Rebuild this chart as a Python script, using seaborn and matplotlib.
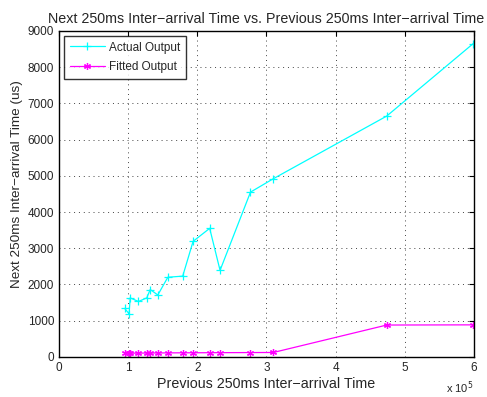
import matplotlib
matplotlib.use("Agg")
import matplotlib.pyplot as plt
import seaborn as sns
import pandas as pd
from matplotlib.ticker import FuncFormatter, MultipleLocator

prev_time = [0.95e5, 1.015e5, 1.03e5, 1.15e5, 1.27e5, 1.32e5, 1.43e5, 1.575e5,
             1.79e5, 1.94e5, 2.18e5, 2.33e5, 2.77e5, 3.1e5, 4.74e5, 5.99e5]
actual_output = [1340, 1190, 1630, 1530, 1630, 1860, 1710, 2200,
                 2230, 3190, 3550, 2390, 4550, 4920, 6650, 8650]
fitted_output = [100, 102, 103, 105, 107, 108, 109, 111,
                 113, 114, 116, 117, 120, 122, 880, 885]

sns.set_style("white")
plt.rcParams['font.family'] = ['Liberation Sans', 'DejaVu Sans']

df = pd.DataFrame({"prev": prev_time, "actual": actual_output, "fitted": fitted_output})

fig = plt.figure(figsize=(4.87, 3.97), dpi=100)
ax = fig.add_axes([0.121, 0.101, 0.852, 0.821])

sns.lineplot(data=df, x="prev", y="actual", ax=ax, color="#00ffff", marker="+",
             markersize=6, markeredgewidth=0.9, linewidth=0.9, label="Actual Output",
             markeredgecolor="#00ffff", sort=False)
sns.lineplot(data=df, x="prev", y="fitted", ax=ax, color="#ff00ff", marker=(6, 2, 0),
             markersize=5, markeredgewidth=0.9, linewidth=0.9, label="Fitted Output",
             markeredgecolor="#ff00ff", sort=False)

ax.set_xlim(0, 6e5)
ax.set_ylim(0, 9000)
ax.xaxis.set_major_locator(MultipleLocator(1e5))
ax.yaxis.set_major_locator(MultipleLocator(1000))
ax.xaxis.set_major_formatter(FuncFormatter(lambda v, p: f"{v/1e5:g}"))
ax.grid(True, linestyle=(0, (1, 4)), color="#444444", linewidth=0.7)
ax.tick_params(direction="in", top=True, right=True, length=3.5, width=0.8,
               labelsize=8.5, color="black", pad=3.5)
for s in ax.spines.values():
    s.set_color("black")
    s.set_linewidth(1.0)

ax.set_title("Next 250ms Inter\u2212arrival Time vs. Previous 250ms Inter\u2212arrival Time",
             fontsize=10.3, pad=6)
ax.set_xlabel("Previous 250ms Inter\u2212arrival Time", fontsize=10.3, labelpad=2)
ax.set_ylabel("Next 250ms Inter\u2212arrival Time (us)", fontsize=9.7)
ax.yaxis.set_label_coords(-0.086, 0.53)
ax.text(1.0, -0.068, r"x 10$^5$", transform=ax.transAxes, ha="right", va="top", fontsize=8)

leg = ax.legend(loc="upper left", fontsize=8.5, frameon=True, fancybox=False,
                edgecolor="black", borderaxespad=0.4, handlelength=3.0,
                handletextpad=0.35, borderpad=0.5, labelspacing=0.65)
leg.get_frame().set_linewidth(1.0)

fig.savefig("out.png", dpi=100)
